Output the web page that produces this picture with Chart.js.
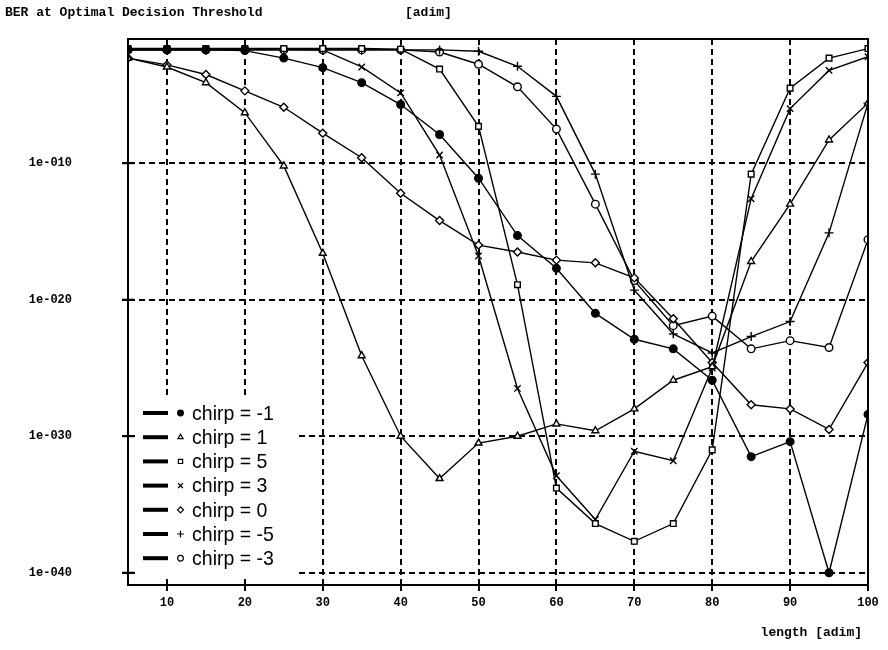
<!DOCTYPE html>
<html>
<head>
<meta charset="utf-8">
<script src="https://cdn.jsdelivr.net/npm/chart.js@4.4.1/dist/chart.umd.min.js"></script>
<style>
  html, body { margin: 0; padding: 0; background: #fff; }
  canvas { display: block; }
</style>
</head>
<body>
<canvas id="ber" width="888" height="650"></canvas>
<script>
// Fibre length (adim)
const lengths = [5, 10, 15, 20, 25, 30, 35, 40, 45, 50, 55, 60, 65, 70, 75, 80, 85, 90, 95, 100];

// log10(BER) at optimal decision threshold, one array per chirp value
const logBerChirpM1 = [-1.7, -1.7, -1.7, -1.75, -2.3, -3.0, -4.1, -5.7, -7.9, -11.1, -15.3, -17.7, -21.0, -22.9, -23.6, -25.9, -31.5, -30.4, -40.0, -28.4];
const logBerChirp1  = [-2.3, -2.95, -4.1, -6.3, -10.2, -16.6, -24.1, -30.0, -33.1, -30.5, -30.0, -29.1, -29.6, -28.0, -25.9, -24.9, -17.2, -13.0, -8.3, -5.6];
const logBerChirp5  = [-1.6, -1.6, -1.6, -1.6, -1.6, -1.6, -1.6, -1.65, -3.1, -7.3, -18.9, -33.8, -36.4, -37.7, -36.4, -31.0, -10.8, -4.5, -2.3, -1.6];
const logBerChirp3  = [-1.65, -1.65, -1.65, -1.65, -1.65, -1.7, -2.95, -4.85, -9.4, -16.8, -26.5, -32.9, -36.1, -31.1, -31.8, -25.0, -12.6, -6.0, -3.2, -2.2];
const logBerChirp0  = [-2.3, -2.8, -3.5, -4.7, -5.9, -7.8, -9.6, -12.2, -14.2, -16.0, -16.5, -17.1, -17.3, -18.4, -21.4, -24.6, -27.7, -28.0, -29.5, -24.6];
const logBerChirpM5 = [-1.7, -1.7, -1.7, -1.7, -1.7, -1.7, -1.7, -1.7, -1.7, -1.8, -2.9, -5.1, -10.8, -19.3, -22.5, -23.9, -22.7, -21.6, -15.1, -5.6];
const logBerChirpM3 = [-1.7, -1.7, -1.7, -1.7, -1.7, -1.7, -1.7, -1.7, -1.85, -2.75, -4.4, -7.5, -13.0, -18.6, -21.9, -21.2, -23.6, -23.0, -23.5, -15.6];

const seriesLabels = ['chirp = -1', 'chirp = 1', 'chirp = 5', 'chirp = 3', 'chirp = 0', 'chirp = -5', 'chirp = -3'];

// Axis ticks
const lengthTicks = [10, 20, 30, 40, 50, 60, 70, 80, 90, 100];
const berTickExponents = [-40, -30, -20, -10];

const seriesData = [logBerChirpM1, logBerChirp1, logBerChirp5, logBerChirp3, logBerChirp0, logBerChirpM5, logBerChirpM3];
const markerStyles = [
  { pointStyle: 'circle',   fill: '#000', radius: 3.8 },
  { pointStyle: 'triangle', fill: '#fff', radius: 4 },
  { pointStyle: 'rect',     fill: '#fff', radius: 4 },
  { pointStyle: 'crossRot', fill: '#fff', radius: 4.5 },
  { pointStyle: 'rectRot',  fill: '#fff', radius: 4 },
  { pointStyle: 'cross',    fill: '#fff', radius: 4.5 },
  { pointStyle: 'circle',   fill: '#fff', radius: 3.8 }
];

const datasets = seriesData.map((exps, i) => ({
  label: seriesLabels[i],
  data: lengths.map((x, j) => ({ x: x, y: Math.pow(10, exps[j]) })),
  borderColor: '#000',
  borderWidth: 1.4,
  backgroundColor: markerStyles[i].fill,
  pointStyle: markerStyles[i].pointStyle,
  pointRadius: markerStyles[i].radius,
  pointBorderWidth: 1.4,
  pointBorderColor: '#000',
  pointBackgroundColor: markerStyles[i].fill,
  tension: 0,
  fill: false
}));

const monoFont = '"Liberation Mono", "DejaVu Sans Mono", monospace';

// Frame, titles and the in-plot legend
const decorations = {
  id: 'decorations',
  afterDraw(chart) {
    const ctx = chart.ctx;
    const a = chart.chartArea;
    const yScale = chart.scales.y;
    ctx.save();

    // Legend box
    const boxLeft = 135, boxTop = 398, boxRight = 297, boxBottom = 576;
    ctx.fillStyle = '#fff';
    ctx.fillRect(boxLeft, boxTop, boxRight - boxLeft, boxBottom - boxTop);

    // Plot frame
    ctx.strokeStyle = '#000';
    ctx.lineWidth = 2;
    ctx.setLineDash([]);
    ctx.strokeRect(a.left, a.top, a.right - a.left, a.bottom - a.top);

    // Y tick crosses reaching into the plot
    berTickExponents.forEach(e => {
      const py = yScale.getPixelForValue(Math.pow(10, e));
      ctx.beginPath();
      ctx.moveTo(a.left - 6, py);
      ctx.lineTo(a.left + 6, py);
      ctx.stroke();
    });

    // Legend entries
    ctx.textBaseline = 'middle';
    ctx.textAlign = 'left';
    seriesLabels.forEach((label, i) => {
      const cy = 413 + i * 24.2;
      ctx.strokeStyle = '#000';
      ctx.lineWidth = 4;
      ctx.beginPath();
      ctx.moveTo(143, cy);
      ctx.lineTo(168, cy);
      ctx.stroke();
      ctx.lineWidth = 1.2;
      ctx.fillStyle = markerStyles[i].fill;
      Chart.helpers.drawPoint(ctx, {
        pointStyle: markerStyles[i].pointStyle,
        radius: markerStyles[i].radius * 0.75,
        rotation: 0,
        borderWidth: 1.2
      }, 180.5, cy);
      ctx.fillStyle = '#000';
      ctx.save();
      ctx.translate(192, cy + 1);
      ctx.scale(0.93, 1);
      ctx.font = '21px "Liberation Sans", Arial, sans-serif';
      ctx.fillText(label, 0, 0);
      ctx.restore();
    });

    // Titles
    ctx.fillStyle = '#000';
    ctx.font = 'bold 13px ' + monoFont;
    ctx.textBaseline = 'alphabetic';
    ctx.textAlign = 'left';
    ctx.fillText('BER at Optimal Decision Threshold', 5, 16);
    ctx.fillText('[adim]', 405, 16);
    ctx.textAlign = 'right';
    ctx.fillText('length [adim]', 862, 636);

    ctx.restore();
  }
};

new Chart(document.getElementById('ber'), {
  type: 'line',
  data: { datasets: datasets },
  plugins: [decorations],
  options: {
    responsive: false,
    animation: false,
    layout: { padding: { top: 39, right: 20, left: 0, bottom: 0 } },
    plugins: {
      legend: { display: false },
      tooltip: { enabled: false }
    },
    scales: {
      x: {
        type: 'linear',
        min: 5,
        max: 100,
        afterBuildTicks(scale) {
          scale.ticks = lengthTicks.map(v => ({ value: v }));
        },
        afterFit(scale) { scale.height = 65; },
        ticks: {
          color: '#000',
          font: { family: monoFont, size: 12, weight: 'bold' },
          padding: 5,
          maxRotation: 0,
          autoSkip: false,
          callback: v => String(v)
        },
        grid: {
          color: '#000',
          lineWidth: 2,
          tickLength: 6,
          tickWidth: 2,
          tickColor: '#000',
          tickBorderDash: []
        },
        border: { display: true, color: '#000', width: 2, dash: [6, 4] }
      },
      y: {
        type: 'logarithmic',
        min: Math.pow(10, -40.9),
        max: Math.pow(10, -0.9),
        afterBuildTicks(scale) {
          scale.ticks = berTickExponents.map(e => ({ value: Math.pow(10, e) }));
        },
        afterFit(scale) {
          scale.width = 128;
          scale.paddingTop = 0;
          scale.paddingBottom = 0;
        },
        ticks: {
          color: '#000',
          font: { family: monoFont, size: 12, weight: 'bold' },
          padding: 50,
          autoSkip: false,
          callback: v => {
            const e = Math.round(Math.log10(v));
            return '1e-' + String(-e).padStart(3, '0');
          }
        },
        grid: {
          color: '#000',
          lineWidth: 2,
          tickLength: 6,
          tickWidth: 2,
          tickColor: '#000',
          tickBorderDash: []
        },
        border: { display: true, color: '#000', width: 2, dash: [6, 4] }
      }
    }
  }
});
</script>
</body>
</html>
